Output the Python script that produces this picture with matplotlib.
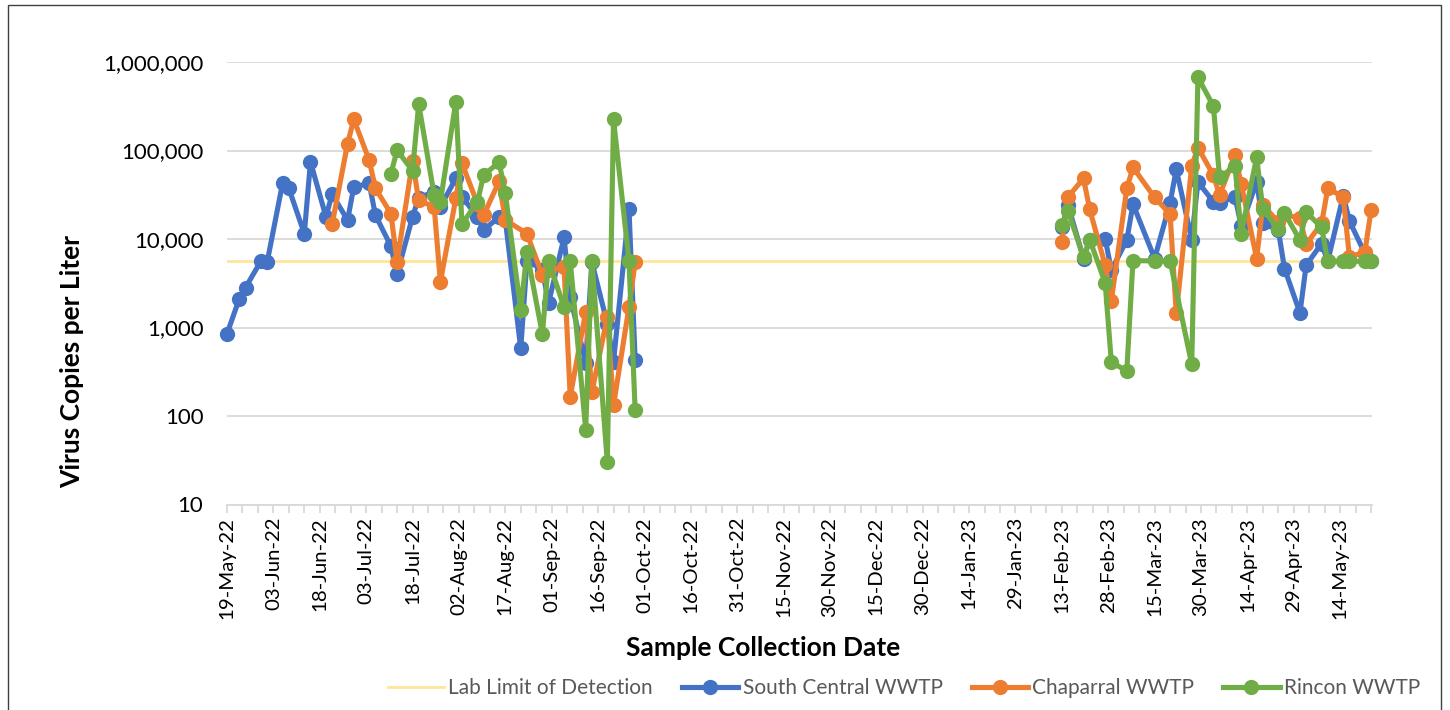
import matplotlib
matplotlib.use("Agg")
import matplotlib.pyplot as plt
import matplotlib.dates as mdates
from matplotlib.ticker import FixedLocator, FuncFormatter
from matplotlib.lines import Line2D
from matplotlib.patches import Rectangle
import numpy as np
import pandas as pd

plt.rcParams['font.family'] = ['Lato', 'DejaVu Sans']

# ---------------- data ----------------
lod_value = 5600

sc_dates_2022 = ["2022-05-19", "2022-05-23", "2022-05-25", "2022-05-30", "2022-06-01", "2022-06-06",
                 "2022-06-08", "2022-06-13", "2022-06-15", "2022-06-20", "2022-06-22", "2022-06-27",
                 "2022-06-29", "2022-07-04", "2022-07-06", "2022-07-11", "2022-07-13", "2022-07-18",
                 "2022-07-20", "2022-07-25", "2022-07-27", "2022-08-01", "2022-08-03", "2022-08-08",
                 "2022-08-10", "2022-08-15", "2022-08-17", "2022-08-22", "2022-08-24", "2022-08-29",
                 "2022-08-31", "2022-09-05", "2022-09-07", "2022-09-12", "2022-09-14", "2022-09-19",
                 "2022-09-21", "2022-09-26", "2022-09-28"]
sc_vals_2022 = [850, 2120, 2830, 5650, 5500, 43100, 37300, 11500, 74500, 17800, 32100, 16300,
                38800, 42400, 18600, 8300, 4000, 17800, 29300, 34100, 23100, 48300, 30000, 17800,
                12600, 17800, 16500, 580, 5700, 4500, 1890, 10400, 2210, 400, 5500, 1100,
                410, 22100, 425]

ch_dates_2022 = ["2022-06-22", "2022-06-27", "2022-06-29", "2022-07-04", "2022-07-06", "2022-07-11",
                 "2022-07-13", "2022-07-18", "2022-07-20", "2022-07-25", "2022-07-27", "2022-08-01",
                 "2022-08-03", "2022-08-08", "2022-08-10", "2022-08-15", "2022-08-17", "2022-08-24",
                 "2022-08-29", "2022-08-31", "2022-09-05", "2022-09-07", "2022-09-12", "2022-09-14",
                 "2022-09-19", "2022-09-21", "2022-09-26", "2022-09-28"]
ch_vals_2022 = [14700, 119700, 225400, 77300, 37300, 19400, 5500, 75300, 27300, 23100, 3270, 28700,
                71500, 25000, 18600, 44700, 16400, 11500, 3900, 4500, 4830, 165, 1500, 186,
                1315, 132, 1700, 5500]

ri_dates_2022 = ["2022-07-11", "2022-07-13", "2022-07-18", "2022-07-20", "2022-07-25", "2022-07-27",
                 "2022-08-01", "2022-08-03", "2022-08-08", "2022-08-10", "2022-08-15", "2022-08-17",
                 "2022-08-22", "2022-08-24", "2022-08-29", "2022-08-31", "2022-09-05", "2022-09-07",
                 "2022-09-12", "2022-09-14", "2022-09-19", "2022-09-21", "2022-09-26", "2022-09-28"]
ri_vals_2022 = [54100, 101000, 58900, 335000, 31300, 26300, 352800, 14700, 26300, 52700, 73500, 33000,
                1590, 7050, 838, 5700, 1700, 5700, 70, 5700, 30, 226000, 5650, 116]

sc_dates_2023 = ["2023-02-13", "2023-02-15", "2023-02-20", "2023-02-22", "2023-02-27", "2023-03-01",
                 "2023-03-06", "2023-03-08", "2023-03-15", "2023-03-20", "2023-03-22", "2023-03-27",
                 "2023-03-29", "2023-04-03", "2023-04-05", "2023-04-10", "2023-04-12", "2023-04-17",
                 "2023-04-19", "2023-04-24", "2023-04-26", "2023-05-01", "2023-05-03", "2023-05-08",
                 "2023-05-10", "2023-05-15", "2023-05-17", "2023-05-22", "2023-05-24"]
sc_vals_2023 = [13500, 24100, 6020, 9690, 10100, 4440, 9690, 24800, 6020, 25600, 61100, 9870,
                44200, 26300, 25600, 29900, 14000, 44200, 15000, 12600, 4640, 1460, 5050, 8890,
                5600, 31000, 16000, 6850, 5600]

ch_dates_2023 = sc_dates_2023
ch_vals_2023 = [9270, 29900, 48300, 21600, 5050, 2000, 37300, 64400, 29500, 19100, 1440, 66600,
                108000, 52700, 31300, 88700, 41700, 6020, 24100, 15600, 19000, 17100, 8730, 15000,
                37300, 29900, 6280, 7150, 21200]

ri_dates_2023 = ["2023-02-13", "2023-02-15", "2023-02-20", "2023-02-22", "2023-02-27", "2023-03-01",
                 "2023-03-06", "2023-03-08", "2023-03-15", "2023-03-20", "2023-03-27", "2023-03-29",
                 "2023-04-03", "2023-04-05", "2023-04-10", "2023-04-12", "2023-04-17", "2023-04-19",
                 "2023-04-24", "2023-04-26", "2023-05-01", "2023-05-03", "2023-05-08", "2023-05-10",
                 "2023-05-15", "2023-05-17", "2023-05-22", "2023-05-24"]
ri_vals_2023 = [14300, 20800, 6180, 9870, 3190, 407, 322, 5700, 5650, 5650, 383, 671000,
                318000, 49600, 66600, 11500, 84200, 21600, 12900, 19700, 9690, 20200, 13500, 5600,
                5600, 5600, 5600, 5600]

series_names = ["South Central WWTP", "Chaparral WWTP", "Rincon WWTP"]
y_ticks = [10, 100, 1000, 10000, 100000, 1000000]
x_start = "2022-05-19"
x_end = "2023-05-24"

# ---------------- figure ----------------
W, H = 1450, 710
fig = plt.figure(figsize=(W / 100, H / 100), dpi=100)
ax = fig.add_axes([227 / W, 1 - 504.5 / H, (1372 - 227) / W, (504.5 - 62) / H])

colors = ["#4472C4", "#ED7D31", "#70AD47"]
lod_color = "#FFE699"
LW = 3.7
MS = 11

t0 = pd.Timestamp(x_start)
t1 = pd.Timestamp(x_end)

ax.plot([t0, t1 + pd.Timedelta(days=0.3)], [lod_value, lod_value], color=lod_color, lw=2.0, zorder=2)

groups = [
    [(sc_dates_2022, sc_vals_2022), (sc_dates_2023, sc_vals_2023)],
    [(ch_dates_2022, ch_vals_2022), (ch_dates_2023, ch_vals_2023)],
    [(ri_dates_2022, ri_vals_2022), (ri_dates_2023, ri_vals_2023)],
]
for i, segs in enumerate(groups):
    for d, v in segs:
        ax.plot(pd.to_datetime(d), v, color=colors[i], lw=LW, marker='o', markersize=MS,
                markeredgewidth=0, solid_joinstyle='round', zorder=3 + i, clip_on=False)

ax.set_yscale('log')
ax.set_ylim(10, 1000000)
ax.yaxis.set_major_locator(FixedLocator(y_ticks))
ax.yaxis.set_minor_locator(FixedLocator([]))
ax.yaxis.set_major_formatter(FuncFormatter(lambda v, p: f"{int(round(v)):,}"))
ax.grid(axis='y', color='#D9D9D9', lw=1.3)
ax.set_axisbelow(True)

ax.set_xlim(t0, t1 + pd.Timedelta(days=0.3))
xt = pd.date_range(t0, t1, freq='15D')
ax.set_xticks(xt)
ax.set_xticklabels([d.strftime('%d-%b-%y') for d in xt], rotation=90, fontsize=14.7)
minor = pd.date_range(t0, t1 + pd.Timedelta(days=0.3), freq='5D')
ax.xaxis.set_minor_locator(FixedLocator(mdates.date2num(minor)))

for s in ['top', 'right', 'left']:
    ax.spines[s].set_visible(False)
ax.spines['bottom'].set_color('#D9D9D9')
ax.spines['bottom'].set_linewidth(1.3)
ax.tick_params(axis='x', which='major', length=6, color='#D9D9D9', width=1.3, pad=3, labelcolor='black')
ax.tick_params(axis='x', which='minor', length=6, color='#D9D9D9', width=1.3)
ax.tick_params(axis='y', length=0, labelsize=16, pad=17, labelcolor='black')

fig.text(72 / W, 1 - 361 / H, "Virus Copies per Liter", fontsize=19, fontweight='bold',
         rotation=90, ha='center', va='center')
fig.text((622 + 905) / 2 / W, 1 - 648 / H, "Sample Collection Date", fontsize=19,
         fontweight='bold', ha='center', va='center')

handles = [Line2D([], [], color=lod_color, lw=2.0)] + [
    Line2D([], [], color=c, lw=LW, marker='o', markersize=MS, markeredgewidth=0) for c in colors]
labels = ["Lab Limit of Detection"] + series_names
leg = fig.legend(handles, labels, loc='center', bbox_to_anchor=(904 / W, 1 - 688 / H), ncol=4,
                 frameon=False, fontsize=15, handlelength=2.7, handletextpad=0.2,
                 columnspacing=1.4, labelcolor='#595959')

fig.patches.append(Rectangle((8 / W, -0.05), (1441 - 8) / W, (1 - 5 / H) + 0.05,
                             transform=fig.transFigure, fill=False, edgecolor='#404040', lw=1.0))

fig.savefig("out.png", dpi=100)
